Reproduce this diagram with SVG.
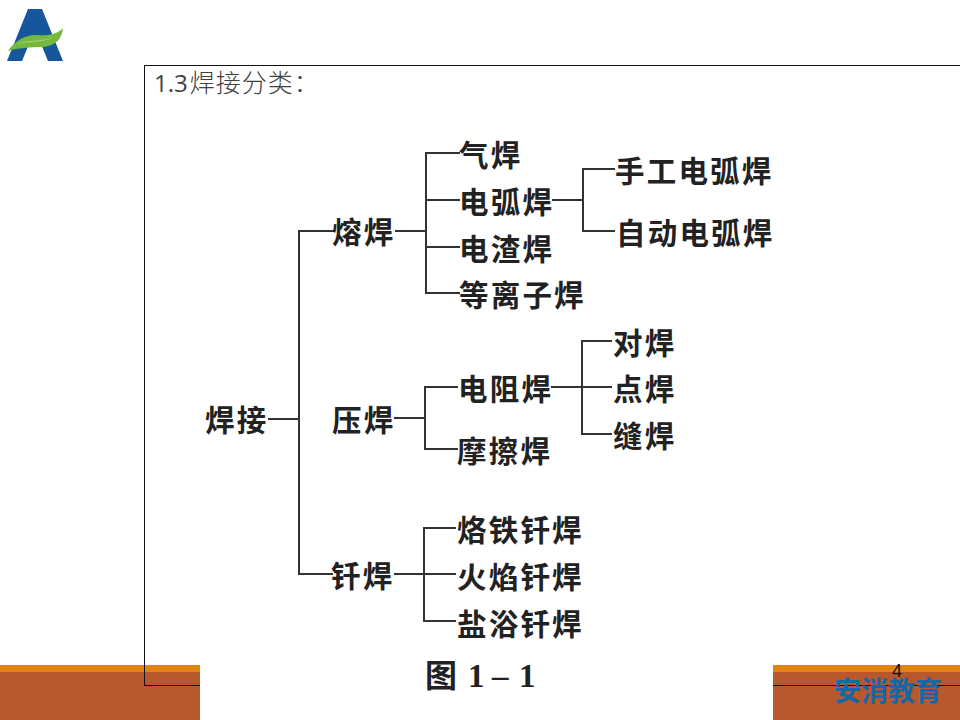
<svg xmlns="http://www.w3.org/2000/svg" width="960" height="720" viewBox="0 0 960 720">
<style>
.n{font-family:"Noto Sans CJK SC","Noto Sans",sans-serif;font-size:29.5px;font-weight:700;fill:#222;letter-spacing:2.2px}
.c{fill:none;stroke:#333;stroke-width:2}
.o{fill:#b8582c}
.t{fill:#e08412}
</style>
<rect width="960" height="720" fill="#fff"/>
<g id="footer">
<rect class="o" x="0" y="672" width="200" height="48"/>
<rect class="t" x="0" y="665" width="200" height="7"/>
<rect class="o" x="773" y="672" width="187" height="48"/>
<rect class="t" x="773" y="665" width="187" height="7"/>
</g>
<g id="logo">
<path d="M28 9H42L63 61H48L41 44H29L22 61H7Z" fill="#15569c"/>
<path d="M8 51C14 41 26 34 38 35C48 36 58 34 63 28C62 39 56 45 44 47C30 47 18 48 8 51Z" fill="#74b83e"/>
<path d="M16 44C28 39 42 42 54 37C46 42 30 42 16 44Z" fill="#a0d060"/>
</g>
<rect id="frame" x="144.5" y="65.5" width="830" height="620" fill="none" stroke="#111" stroke-width="1"/>
<rect x="200" y="660" width="573" height="60" fill="#fff"/>
<g id="title"><text x="154" y="92" font-family="'Open Sans','Noto Sans CJK SC',sans-serif" font-size="24" fill="#404040">1.3<tspan dx="2" font-family="'Noto Sans CJK SC',sans-serif" font-size="25" font-weight="300" letter-spacing="1">焊接分类：</tspan></text></g>
<g id="connectors">
<path class="c" d="M268 419H298M334 231H299V574H333"/>
<path class="c" d="M395 231H426M460 153H426V293H460M426 200H460M426 247H460"/>
<path class="c" d="M552 200H583M615 169H583V231H615"/>
<path class="c" d="M394 418H425M458 387H425V449H458"/>
<path class="c" d="M551 387H612M612 341H582V434H612"/>
<path class="c" d="M394 574H456M456 528H424V621H456"/>
</g>
<g id="n-root"><text class="n" x="205" y="431">焊接</text></g>
<g id="n-rong"><text class="n" x="332" y="243">熔焊</text></g>
<g id="n-ya"><text class="n" x="332" y="431">压焊</text></g>
<g id="n-qian"><text class="n" x="331" y="587">钎焊</text></g>
<g id="n-qi"><text class="n" x="459" y="166">气焊</text></g>
<g id="n-dh"><text class="n" x="459" y="213">电弧焊</text></g>
<g id="n-dz"><text class="n" x="459" y="260">电渣焊</text></g>
<g id="n-dl"><text class="n" x="459" y="306">等离子焊</text></g>
<g id="n-sg"><text class="n" x="615" y="182">手工电弧焊</text></g>
<g id="n-zd"><text class="n" x="616" y="244">自动电弧焊</text></g>
<g id="n-dzh"><text class="n" x="458" y="400">电阻焊</text></g>
<g id="n-mc"><text class="n" x="457" y="462">摩擦焊</text></g>
<g id="n-dui"><text class="n" x="613" y="354">对焊</text></g>
<g id="n-dian"><text class="n" x="613" y="400">点焊</text></g>
<g id="n-feng"><text class="n" x="613" y="447">缝焊</text></g>
<g id="n-lt"><text class="n" x="457" y="541">烙铁钎焊</text></g>
<g id="n-hy"><text class="n" x="457" y="588">火焰钎焊</text></g>
<g id="n-yy"><text class="n" x="457" y="635">盐浴钎焊</text></g>
<g id="caption"><text x="425" y="687" font-family="'Noto Sans CJK SC',sans-serif" font-size="32" font-weight="700" fill="#222">图</text><text y="687" font-family="'Liberation Serif',serif" font-size="33" font-weight="700" fill="#222"><tspan x="468">1</tspan><tspan x="492">–</tspan><tspan x="519">1</tspan></text></g>
<g id="page"><text x="897" y="677" text-anchor="middle" font-family="'Liberation Sans',sans-serif" font-size="18" fill="#111">4</text></g>
<g id="brand"><text x="834" y="701" font-family="'Noto Sans CJK SC',sans-serif" font-size="27" font-weight="700" fill="#1268a8">安消教育</text></g>
</svg>
